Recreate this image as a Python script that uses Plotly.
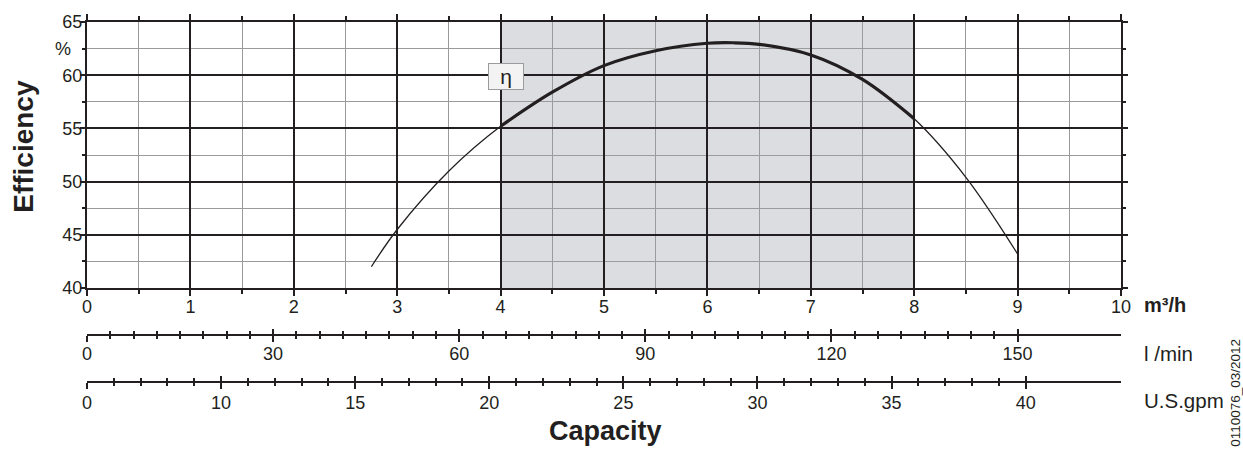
import plotly.graph_objects as go

# ---------------- data ----------------
capacity_m3h = [2.75, 3.0, 3.5, 4.0, 4.5, 5.0, 5.5, 6.0, 6.25, 6.5, 7.0, 7.5, 8.0, 8.5, 9.0]
efficiency_pct = [42.0, 45.5, 51.0, 55.2, 58.4, 60.9, 62.3, 63.0, 63.05, 62.9, 61.9, 59.6, 55.9, 50.4, 43.2]
recommended_range = [4, 8]          # shaded operating range, m³/h
m3h_ticks = [0, 1, 2, 3, 4, 5, 6, 7, 8, 9, 10]
eff_ticks = [40, 45, 50, 55, 60, 65]
lmin_ticks = [0, 30, 60, 90, 120, 150]
gpm_labels = ["0", "10", "15", "20", "25", "30", "35", "40"]

# ---------------- geometry / style ----------------
W, H = 1243, 453
L, R, T, B = 87, 122, 17, 71
PW, PH = W - L - R, H - T - B
INK = "#231f20"
MINOR = "#9b9b9b"
FONT = "Liberation Sans, Arial, sans-serif"


def px_x(px):
    return (px - L) / PW


def px_y(py):
    return (H - B - py) / PH


main_bottom = px_y(286.7)

# thick part of curve (inside recommended range)
thick_x = [c for c in capacity_m3h if recommended_range[0] <= c <= recommended_range[1]]
thick_y = [e for c, e in zip(capacity_m3h, efficiency_pct) if recommended_range[0] <= c <= recommended_range[1]]

# minor tick subdivisions of secondary scales
lmin_minor = []
for a, b in zip(lmin_ticks[:-1], lmin_ticks[1:]):
    lmin_minor += [a + (b - a) * k / 8 for k in range(8)]
gpm_pos = list(range(len(gpm_labels)))
gpm_minor = []
for a, b in zip(gpm_pos[:-1], gpm_pos[1:]):
    gpm_minor += [a + (b - a) * k / 5 for k in range(5)]

fig = go.Figure()
fig.add_trace(go.Scatter(x=capacity_m3h, y=efficiency_pct, mode="lines",
                         line=dict(color=INK, width=1.3, shape="spline", smoothing=1.0),
                         showlegend=False, hoverinfo="skip"))
fig.add_trace(go.Scatter(x=thick_x, y=thick_y, mode="lines",
                         line=dict(color=INK, width=3.2, shape="spline", smoothing=1.0),
                         showlegend=False, hoverinfo="skip"))
# dummy traces to activate the secondary scales
for ax, xv in [("x2", lmin_ticks[0]), ("x3", lmin_ticks[0]), ("x4", gpm_pos[0]), ("x5", gpm_pos[0])]:
    fig.add_trace(go.Scatter(x=[xv], y=[None], xaxis=ax, yaxis="y", mode="markers",
                             showlegend=False, hoverinfo="skip"))

fig.add_shape(type="rect", xref="x", yref="y domain",
              x0=recommended_range[0], x1=recommended_range[1], y0=0, y1=1,
              fillcolor="#dcdde0", line=dict(width=0), layer="below")

tickfont = dict(family=FONT, size=18, color=INK)

fig.update_layout(
    width=W, height=H,
    margin=dict(l=L, r=R, t=T, b=B, pad=0),
    paper_bgcolor="white", plot_bgcolor="white",
    font=dict(family=FONT, color=INK),
    xaxis=dict(range=[0, 10], tickvals=m3h_ticks, anchor="y",
               showgrid=True, gridcolor=INK, gridwidth=2,
               showline=True, linecolor=INK, linewidth=2, mirror="ticks",
               ticks="outside", ticklen=6, tickwidth=2, tickcolor=INK,
               minor=dict(dtick=0.5, tick0=0, showgrid=True, gridcolor=MINOR, gridwidth=1,
                          ticks="outside", ticklen=4, tickwidth=1.5, tickcolor=INK),
               zeroline=False, tickfont=tickfont, ticklabelstandoff=-5),
    yaxis=dict(range=[40, 65], tickvals=eff_ticks, domain=[main_bottom, 1], anchor="x",
               showgrid=True, gridcolor=INK, gridwidth=2,
               showline=True, linecolor=INK, linewidth=2, mirror="ticks",
               ticks="outside", ticklen=5, tickwidth=2, tickcolor=INK,
               minor=dict(dtick=2.5, tick0=0, showgrid=True, gridcolor=MINOR, gridwidth=1,
                          ticks="outside", ticklen=3, tickwidth=1.5, tickcolor=INK),
               zeroline=False, tickfont=tickfont, ticklabelstandoff=-6),
    xaxis2=dict(overlaying="x", anchor="free", position=px_y(334), side="bottom",
                range=[0, 1000 / 6], tickvals=lmin_ticks,
                showline=True, linecolor=INK, linewidth=2, showgrid=False, zeroline=False,
                ticks="outside", ticklen=6, tickwidth=2, tickcolor=INK,
                minor=dict(tickmode="array", tickvals=lmin_minor, ticks="outside",
                           ticklen=3.5, tickwidth=1.5, tickcolor=INK, showgrid=False),
                tickfont=tickfont, ticklabelstandoff=-3),
    xaxis3=dict(overlaying="x", anchor="free", position=px_y(334), side="bottom",
                range=[0, 1000 / 6], tickvals=lmin_ticks, showticklabels=False,
                showline=False, showgrid=False, zeroline=False,
                ticks="inside", ticklen=6, tickwidth=2, tickcolor=INK,
                minor=dict(tickmode="array", tickvals=lmin_minor, ticks="inside",
                           ticklen=3.5, tickwidth=1.5, tickcolor=INK, showgrid=False)),
    xaxis4=dict(overlaying="x", anchor="free", position=max(px_y(381.7), 0), side="bottom",
                range=[0, 7.711], tickvals=gpm_pos, ticktext=gpm_labels,
                showline=True, linecolor=INK, linewidth=2, showgrid=False, zeroline=False,
                ticks="outside", ticklen=6, tickwidth=2, tickcolor=INK,
                minor=dict(tickmode="array", tickvals=gpm_minor, ticks="outside",
                           ticklen=3.5, tickwidth=1.5, tickcolor=INK, showgrid=False),
                tickfont=tickfont, ticklabelstandoff=-1),
    xaxis5=dict(overlaying="x", anchor="free", position=max(px_y(381.7), 0), side="bottom",
                range=[0, 7.711], tickvals=gpm_pos, showticklabels=False,
                showline=False, showgrid=False, zeroline=False,
                ticks="inside", ticklen=6, tickwidth=2, tickcolor=INK,
                minor=dict(tickmode="array", tickvals=gpm_minor, ticks="inside",
                           ticklen=3.5, tickwidth=1.5, tickcolor=INK, showgrid=False)),
)

ann = []
ann.append(dict(text="%", xref="paper", yref="y", x=px_x(63), y=62.5, showarrow=False,
                xanchor="center", yanchor="middle", font=dict(family=FONT, size=18, color=INK)))
ann.append(dict(text="η", xref="x", yref="y", x=4.05, y=59.9, showarrow=False,
                xanchor="center", yanchor="middle", width=34, height=25,
                bgcolor="#f3f3f3", bordercolor="#9b9b9b", borderwidth=1, borderpad=0,
                font=dict(family=FONT, size=21, color=INK)))
ann.append(dict(text="<b>m³/h</b>", xref="paper", yref="paper", x=px_x(1142), y=px_y(304),
                showarrow=False, xanchor="left", yanchor="middle",
                font=dict(family=FONT, size=20, color=INK)))
ann.append(dict(text="l /min", xref="paper", yref="paper", x=px_x(1142), y=px_y(353),
                showarrow=False, xanchor="left", yanchor="middle",
                font=dict(family=FONT, size=20.5, color=INK)))
ann.append(dict(text="U.S.gpm", xref="paper", yref="paper", x=px_x(1142), y=px_y(401),
                showarrow=False, xanchor="left", yanchor="middle",
                font=dict(family=FONT, size=20.5, color=INK)))
ann.append(dict(text="<b>Capacity</b>", xref="paper", yref="paper", x=px_x(605), y=px_y(432),
                showarrow=False, xanchor="center", yanchor="middle",
                font=dict(family=FONT, size=27, color=INK)))
ann.append(dict(text="<b>Efficiency</b>", xref="paper", yref="paper", x=px_x(24), y=px_y(143.5),
                showarrow=False, xanchor="center", yanchor="middle", textangle=-90,
                font=dict(family=FONT, size=28, color=INK)))
ann.append(dict(text="0110076_03/2012", xref="paper", yref="paper", x=px_x(1236), y=px_y(393),
                showarrow=False, xanchor="center", yanchor="middle", textangle=-90,
                font=dict(family=FONT, size=13.5, color=INK)))
fig.update_layout(annotations=ann)

fig.write_html("out.html", config={"displayModeBar": False},
               post_script="document.body.style.margin='0';document.body.style.overflow='hidden';")
